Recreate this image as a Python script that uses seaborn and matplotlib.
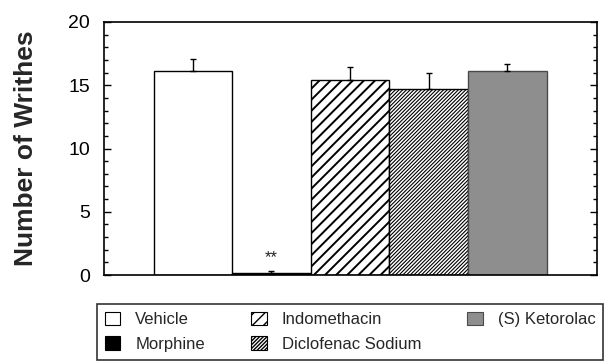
import numpy as np
import pandas as pd
import matplotlib
matplotlib.use("Agg")
import matplotlib.pyplot as plt
from matplotlib.patches import Patch
from matplotlib.ticker import MultipleLocator
import seaborn as sns

# Mean writhing counts and SEM per treatment group
treatments = ["Vehicle", "Morphine", "Indomethacin", "Diclofenac Sodium", "(S) Ketorolac"]
mean_writhes = [16.1, 0.18, 15.4, 14.7, 16.1]
sem_writhes = [0.95, 0.15, 1.05, 1.3, 0.55]
significance = ["", "**", "", "", ""]

fill_colors = ["white", "black", "white", "white", "#8e8e8e"]
edge_colors = ["black", "black", "black", "black", "#4a4a4a"]
hatches = [None, None, "///", "/////////", None]
hatch_widths = [1.0, 1.0, 1.4, 0.8, 1.0]

sns.set_theme(style="white")
plt.rcParams["font.family"] = ["Liberation Sans", "DejaVu Sans"]

df = pd.DataFrame({"treatment": treatments, "writhes": mean_writhes})

fig = plt.figure(figsize=(6.11, 3.62), dpi=100)
ax = fig.add_axes([104 / 611, 1 - 275 / 362, (597 - 104) / 611, (275 - 22) / 362])

sns.barplot(data=df, x="treatment", y="writhes", order=treatments,
            hue="treatment", hue_order=treatments, palette=fill_colors,
            width=1.0, legend=False, ax=ax, errorbar=None, linewidth=1.0)

for patch, ec, h, hw in zip(ax.patches, edge_colors, hatches, hatch_widths):
    patch.set_edgecolor(ec)
    if h:
        patch.set_hatch(h)
        patch.set_hatch_linewidth(hw)

xpos = np.arange(len(treatments))
ax.errorbar(xpos, mean_writhes, yerr=[np.zeros(len(sem_writhes)), sem_writhes],
            fmt="none", ecolor="black", elinewidth=1.0, capsize=2.5, capthick=1.0)

for x, y, s, e in zip(xpos, mean_writhes, significance, sem_writhes):
    if s:
        ax.text(x, y + e + 0.45, s, ha="center", va="bottom", fontsize=12, color="#222222")

ax.set_xlim(-1.13, 5.14)
ax.set_ylim(0, 20)
ax.set_xticks([])
ax.set_xlabel("")
ax.yaxis.set_major_locator(MultipleLocator(5))
ax.yaxis.set_minor_locator(MultipleLocator(1))
ax.tick_params(axis="y", which="both", direction="in", left=True, right=True,
               labelsize=14, pad=10, colors="black")
ax.tick_params(axis="y", which="major", length=5, width=1.0)
ax.tick_params(axis="y", which="minor", length=3, width=1.0)
ax.set_ylabel("Number of Writhes", fontsize=19, fontweight="bold", labelpad=22)

for sp in ax.spines.values():
    sp.set_visible(True)
    sp.set_color("black")
    sp.set_linewidth(1.2)

handles = []
for fc, ec, h, hw in zip(fill_colors, edge_colors, hatches, hatch_widths):
    p = Patch(facecolor=fc, edgecolor=ec, hatch=h, linewidth=0.8)
    if h:
        p.set_hatch_linewidth(hw)
    handles.append(p)

leg = fig.legend(handles, treatments, ncol=3, loc="upper left",
                 bbox_to_anchor=(97 / 611, 1 - 304 / 362), borderaxespad=0,
                 fontsize=12, frameon=True, fancybox=False, borderpad=0.45,
                 handlelength=0.95, handleheight=0.9, handletextpad=0.9,
                 columnspacing=2.75, labelspacing=0.55)
leg.get_frame().set_edgecolor("black")
leg.get_frame().set_linewidth(1.2)

fig.savefig("out.png", dpi=100)
